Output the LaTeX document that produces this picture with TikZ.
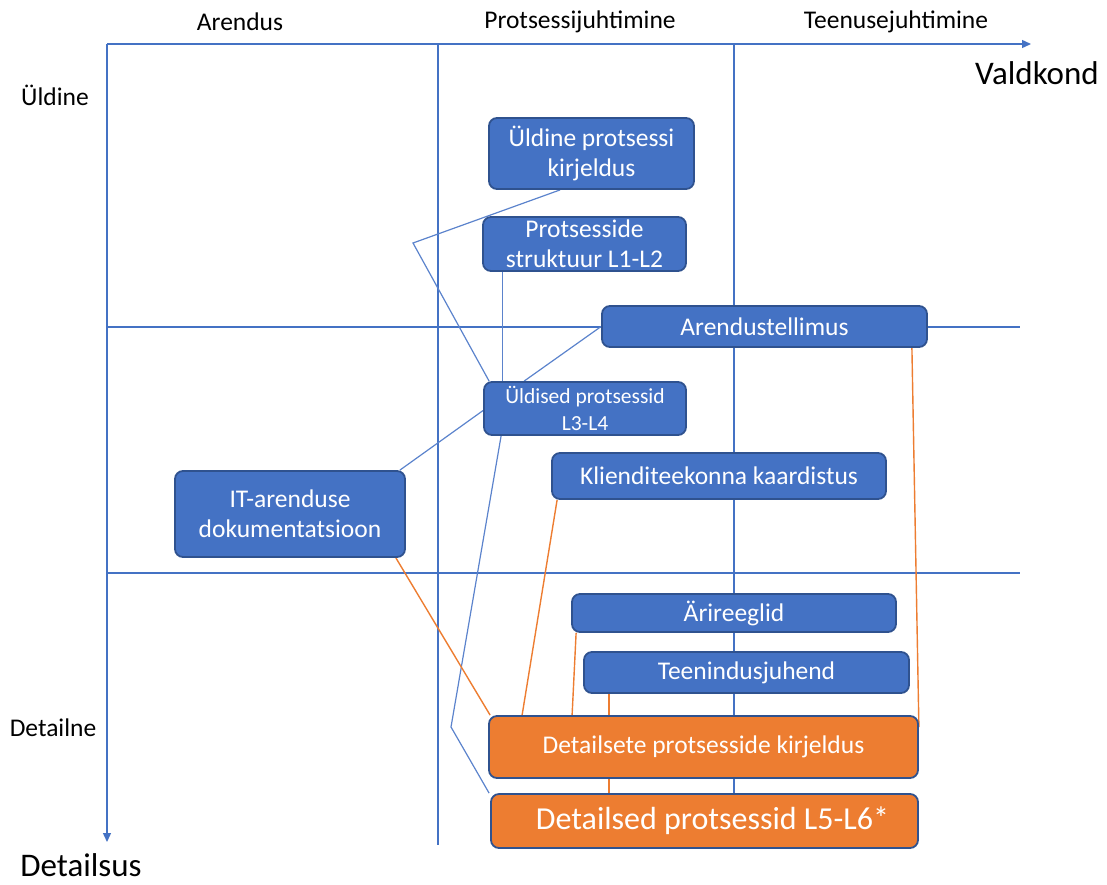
\documentclass[tikz,border=0pt]{standalone}
\usepackage{fontspec}
\setmainfont{Carlito}
\usetikzlibrary{calc,arrows.meta}
\definecolor{boxblue}{HTML}{4472C4}
\definecolor{boxedge}{HTML}{2F528F}
\definecolor{boxorange}{HTML}{ED7D31}
\definecolor{linkblue}{HTML}{5B83CC}
\pgfdeclarelayer{background}
\pgfsetlayers{background,main}
\tikzset{
  card/.style={draw=boxedge, line width=1.8pt, rounded corners=8pt, text=white,
    align=center, inner sep=0pt, font=\fontsize{25.5}{30}\selectfont},
  bluecard/.style={card, fill=boxblue},
  orangecard/.style={card, fill=boxorange},
  gridline/.style={draw=boxblue, line width=1.1pt},
  axisline/.style={draw=boxblue, line width=1.3pt, -{Triangle[length=9pt,width=8pt]}},
  bluelink/.style={draw=linkblue, line width=1.2pt},
  orangelink/.style={draw=boxorange, line width=1.4pt},
  axislabel/.style={inner sep=0pt, font=\fontsize{25.5}{29}\selectfont},
  axistitle/.style={inner sep=0pt, font=\fontsize{33}{37}\selectfont},
}
\begin{document}
\begin{tikzpicture}[x=1pt,y=-1pt]
\useasboundingbox (0,0) rectangle (1107,884);

% axis and column headings
\node[axislabel] (hArendus) at (240,22) {Arendus};
\node[axislabel] (hProts) at (580,22) {Protsessijuhtimine};
\node[axislabel] (hTeenus) at (896,22) {Teenusejuhtimine};
\node[axistitle] (hValdkond) at (1037,73) {Valdkond};
\node[axislabel] (hUldine) at (55,95) {Üldine};
\node[axislabel] (hDetailne) at (53,728) {Detailne};
\node[axistitle] (hDetailsus) at (81,865) {Detailsus};

\coordinate (origin) at (107,44);
\coordinate (xend) at (1031,44);
\coordinate (yend) at (107,842);

% boxes
\node[bluecard, minimum width=205, minimum height=71] (n1) at (591.5,153.5) {Üldine protsessi\\kirjeldus};
\node[bluecard, minimum width=203, minimum height=54] (n2) at (584.5,244) {Protsesside\\struktuur L1-L2};
\node[bluecard, minimum width=325, minimum height=41] (n3) at (764.5,326.5) {Arendustellimus};
\node[bluecard, minimum width=202, minimum height=53, font=\fontsize{21.5}{27}\selectfont] (n4) at (585,408.5) {Üldised protsessid\\L3-L4};
\node[bluecard, minimum width=334, minimum height=46] (n5) at (719,476) {Klienditeekonna kaardistus};
\node[bluecard, minimum width=230, minimum height=86] (n6) at (290,514) {IT-arenduse\\dokumentatsioon};
\node[bluecard, minimum width=324, minimum height=38] (n7) at (734,613) {Ärireeglid};
\node[bluecard, minimum width=325, minimum height=41] (n8) at (746.5,672.5) {Teenindusjuhend};
\node[orangecard, minimum width=429, minimum height=62] (n9) at (703.5,747) {Detailsete protsesside kirjeldus};
\node[orangecard, minimum width=427, minimum height=54, font=\fontsize{32}{36}\selectfont] (n10) at (704.5,821) {\hspace*{16pt}Detailsed protsessid L5-L6*};

\coordinate (kneeA) at (413,243);
\coordinate (kneeB) at (451,727);

\begin{pgfonlayer}{background}
  % grid
  \draw[gridline] (438,44) -- (438,845);
  \draw[gridline] (734,44) -- (734,821);
  \draw[gridline] (107,327) -- (1020,327);
  \draw[gridline] (107,573) -- (1020,573);
  % axes
  \draw[axisline] (origin) -- (xend);
  \draw[axisline] (origin) -- (yend);
  % blue links
  \draw[bluelink] ($(n1.south west)+(72,0)$) -- (kneeA) -- ($(n4.north west)+(6,0)$);
  \draw[bluelink] ($(n2.south west)+(20,0)$) -- ($(n4.north west)+(19,0)$);
  \draw[bluelink] (n3.west) -- ($(n4.north west)+(41,0)$);
  \draw[bluelink] ($(n4.west)+(0,2)$) -- ($(n6.north east)+(-6,0)$);
  \draw[bluelink] ($(n4.south west)+(18,0)$) -- (kneeB) -- ($(n10.north west)+(-1,0)$);
  % orange links
  \draw[orangelink] ($(n6.south east)+(-10,0)$) -- ($(n9.north west)+(2,0)$);
  \draw[orangelink] ($(n5.south west)+(6,0)$) -- ($(n9.north west)+(34,0)$);
  \draw[orangelink] ($(n7.south west)+(5,0)$) -- ($(n9.north west)+(84,0)$);
  \draw[orangelink] ($(n8.south west)+(26,0)$) -- ($(n9.north west)+(121,0)$);
  \draw[orangelink] ($(n3.south east)+(-16,0)$) -- ($(n9.north east)+(0,12)$);
  \draw[orangelink] ($(n9.south west)+(121,0)$) -- ($(n10.north west)+(119,0)$);
\end{pgfonlayer}
\end{tikzpicture}
\end{document}
